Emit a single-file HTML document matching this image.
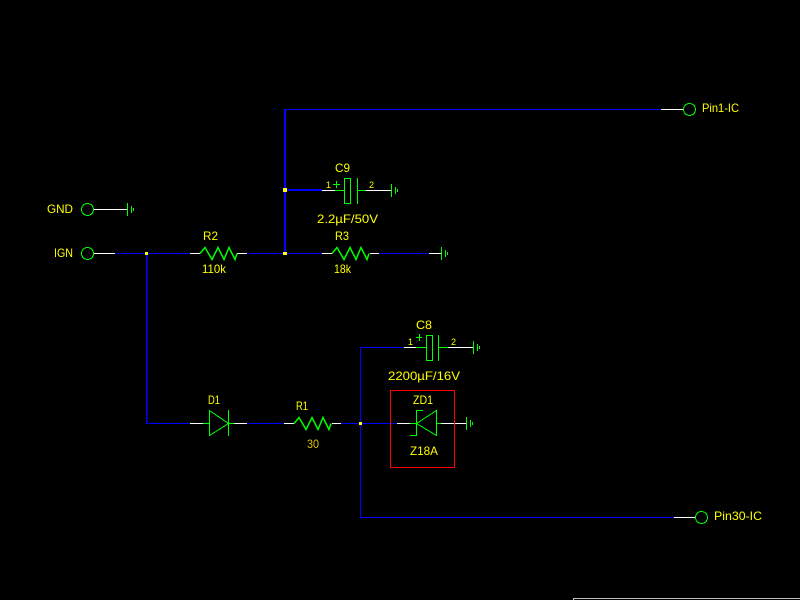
<!DOCTYPE html>
<html><head><meta charset="utf-8"><style>
html,body{margin:0;padding:0;background:#000;width:800px;height:600px;overflow:hidden}
svg{display:block}
.b{stroke:#0000ff;fill:none;shape-rendering:crispEdges}
.w{stroke:#fff;fill:none;shape-rendering:crispEdges}
.g{stroke:#00ff00;fill:none;shape-rendering:crispEdges}
.z{stroke:#00ff00;fill:none;stroke-width:1.5}
text{font-family:"Liberation Sans",sans-serif;fill:#ffff00;font-size:12px}
</style></head><body>
<svg width="800" height="600" viewBox="0 0 800 600" xmlns="http://www.w3.org/2000/svg">
<rect width="800" height="600" fill="#000"/>
<path class="b" stroke-width="2" d="M285 109V253M285 190H322"/>
<path class="b" stroke-width="1.5" d="M146.500 253V424"/>
<path class="b" d="M284 109.500H661M115 253.500H190M247 253.500H322M379 253.500H429M146 423.500H190M247 423.500H284M341 423.500H397M360.500 347V517M360 347.500H404M360 517.500H674"/>
<path class="w" d="M661 109.500H683M322 190.500H335M366 190.500H391M94 209.500H127M94 253.500H115M190 253.500H200M237 253.500H247M322 253.500H332M370 253.500H379M429 253.500H441M404 347.500H416M448 347.500H473M190 423.500H203M234 423.500H247M284 423.500H294M332 423.500H341M397 423.500H410M441 423.500H466M674 517.500H695"/>
<path class="g" d="M335 190.500H344M357 190.500H366M416 347.500H426M438 347.500H448M203 423.500H209M228 423.500H234M410 423.500H416M436 423.500H441"/>
<circle class="g" cx="689.500" cy="109.500" r="6"/><circle class="g" cx="87.500" cy="209.500" r="6"/><circle class="g" cx="87.500" cy="253.500" r="6"/><circle class="g" cx="701.500" cy="517.500" r="6"/>
<rect class="g" x="344.500" y="178.500" width="6" height="25"/><path class="g" d="M357.500 178V204"/>
<rect class="g" x="426.500" y="335.500" width="6" height="25"/><path class="g" d="M438.500 335V361"/>
<path class="g" d="M333 184.500H340M336.500 181V188M416 337.500H422M419.500 334V341"/>
<path class="g" d="M391.500 184V197M395.500 187V194M397.500 189V192M127.500 203V216M131.500 206V213M133.500 208V211M441.500 247V260M445.500 250V257M447.500 252V255M473.500 341V354M477.500 344V351M479.500 346V349M466.500 417V430M470.500 420V427M472.500 422V425"/>
<polyline class="z" points="200,253.500 205,247.500 212,259.500 218,247.500 224,259.500 229,247.500 235,259.500 237,253.500"/>
<polyline class="z" points="332,253.500 337,247.500 344,259.500 350,247.500 356,259.500 361,247.500 367,259.500 369,253.500"/>
<polyline class="z" points="294,423.500 299,417.500 306,429.500 312,417.500 318,429.500 323,417.500 329,429.500 331,423.500"/>
<path class="g" d="M209.500 410.500V435.500L228.500 423.500ZM228.500 410V436"/>
<path class="g" d="M436.500 410.500V435.500L416.500 423.500ZM423 410.500H416.500V435.500H410"/>
<rect x="390.500" y="390.500" width="64" height="77" fill="none" stroke="#ff0000" shape-rendering="crispEdges"/>
<g fill="#ffff00"><rect x="283" y="188" width="4" height="4"/><rect x="283" y="252" width="4" height="3"/><rect x="145" y="252" width="3" height="3"/><rect x="359" y="422" width="3" height="3"/></g>
<path d="M573.500 600V598.500H800" stroke="#c0c0c0" fill="none" shape-rendering="crispEdges"/>
<text x="47" y="213" textLength="26" lengthAdjust="spacingAndGlyphs">GND</text>
<text x="54" y="257" textLength="19" lengthAdjust="spacingAndGlyphs">IGN</text>
<text x="203" y="240" textLength="15" lengthAdjust="spacingAndGlyphs">R2</text>
<text x="202" y="273" textLength="24" lengthAdjust="spacingAndGlyphs">110k</text>
<text x="335" y="172" textLength="15" lengthAdjust="spacingAndGlyphs">C9</text>
<text x="326" y="188" style="font-size:9px">1</text>
<text x="369" y="188" style="font-size:9px">2</text>
<text x="317" y="223" textLength="61" lengthAdjust="spacingAndGlyphs">2.2µF/50V</text>
<text x="335" y="240" textLength="14" lengthAdjust="spacingAndGlyphs">R3</text>
<text x="334" y="273" textLength="17" lengthAdjust="spacingAndGlyphs">18k</text>
<text x="416" y="329" textLength="16" lengthAdjust="spacingAndGlyphs">C8</text>
<text x="408" y="345" style="font-size:9px">1</text>
<text x="451" y="345" style="font-size:9px">2</text>
<text x="388" y="380" textLength="72" lengthAdjust="spacingAndGlyphs">2200µF/16V</text>
<text x="413" y="404" textLength="20" lengthAdjust="spacingAndGlyphs">ZD1</text>
<text x="410" y="455" textLength="28" lengthAdjust="spacingAndGlyphs">Z18A</text>
<text x="208" y="404" textLength="12" lengthAdjust="spacingAndGlyphs">D1</text>
<text x="296" y="410" textLength="12" lengthAdjust="spacingAndGlyphs">R1</text>
<text x="307" y="448" textLength="12" lengthAdjust="spacingAndGlyphs" style="fill:#e0c000">30</text>
<text x="702" y="112" textLength="37" lengthAdjust="spacingAndGlyphs">Pin1-IC</text>
<text x="714" y="520" textLength="48" lengthAdjust="spacingAndGlyphs">Pin30-IC</text>
</svg>
</body></html>
